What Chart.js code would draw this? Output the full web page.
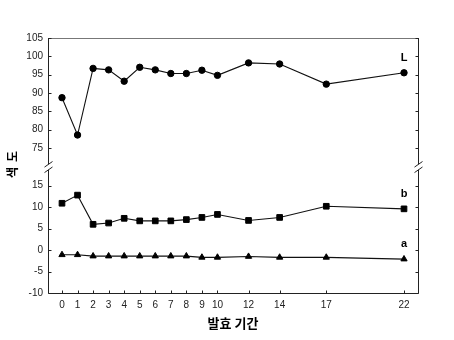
<!DOCTYPE html>
<html>
<head>
<meta charset="utf-8">
<script src="https://cdn.jsdelivr.net/npm/chart.js@4/dist/chart.umd.min.js"></script>
<style>
  html, body { margin: 0; padding: 0; background: #fff; }
</style>
</head>
<body>
<canvas id="c" width="454" height="340"></canvas>
<script>
// Fermentation days and colour values (L, b, a)
const days = [0, 1, 2, 3, 4, 5, 6, 7, 8, 9, 10, 12, 14, 17, 22];
const seriesL = [88.7, 78.5, 96.7, 96.3, 93.2, 97.0, 96.3, 95.3, 95.3, 96.2, 94.8, 98.2, 97.9, 92.4, 95.5];
const seriesB = [10.9, 12.8, 6.0, 6.3, 7.4, 6.8, 6.8, 6.8, 7.1, 7.6, 8.3, 6.9, 7.6, 10.2, 9.6];
const seriesA = [-1.1, -1.1, -1.4, -1.4, -1.4, -1.4, -1.4, -1.4, -1.4, -1.7, -1.7, -1.5, -1.7, -1.7, -2.1];
const seriesNames = ['L', 'b', 'a'];
const upperTicks = [75, 80, 85, 90, 95, 100, 105];
const lowerTicks = [-10, -5, 0, 5, 10, 15];
const xTitle = '발효 기간';
const yTitle = ['색', '도'];

const tickFont = { family: 'Liberation Sans, Arial, sans-serif', size: 10 };
const tickColor = '#222';
const ink = '#111';

const toPoints = vals => vals.map((v, i) => ({ x: days[i], y: v }));

// Axis frame, inward tick marks, axis-break slashes and series letters
const framePlugin = {
  id: 'frame',
  afterDraw(chart) {
    const ctx = chart.ctx;
    const area = chart.chartArea;
    const top = chart.scales.yTop, bot = chart.scales.yBot, xs = chart.scales.x;
    const al = v => Math.round(v) + 0.5;
    const L = al(area.left), R = al(area.right);
    ctx.save();
    ctx.lineWidth = 1;

    // top frame line
    ctx.strokeStyle = '#777';
    ctx.beginPath();
    ctx.moveTo(L, al(area.top)); ctx.lineTo(R, al(area.top));
    ctx.stroke();

    ctx.strokeStyle = '#222';
    ctx.beginPath();
    // vertical axis segments, left and right
    [L, R].forEach(xx => {
      ctx.moveTo(xx, area.top); ctx.lineTo(xx, top.bottom);
      ctx.moveTo(xx, bot.top); ctx.lineTo(xx, area.bottom + 0.5);
    });
    // bottom axis
    ctx.moveTo(L, al(area.bottom)); ctx.lineTo(R, al(area.bottom));
    // inward ticks
    [top, bot].forEach(s => {
      s.ticks.forEach(t => {
        const y = al(s.getPixelForValue(t.value));
        ctx.moveTo(L, y); ctx.lineTo(L + 3, y);
        ctx.moveTo(R, y); ctx.lineTo(R - 3, y);
      });
    });
    xs.ticks.forEach(t => {
      const x = al(xs.getPixelForValue(t.value));
      ctx.moveTo(x, al(area.bottom)); ctx.lineTo(x, al(area.bottom) - 3);
    });
    ctx.stroke();

    // break slashes on both axes
    ctx.beginPath();
    [L, R].forEach(xx => {
      [top.bottom, bot.top].forEach(y => {
        ctx.moveTo(xx - 4, y + 2.8); ctx.lineTo(xx + 4, y - 2.8);
      });
    });
    ctx.stroke();

    // series letters above the last point of each line
    ctx.fillStyle = '#000';
    ctx.font = 'bold 11px Liberation Sans, Arial, sans-serif';
    ctx.textAlign = 'center';
    ctx.textBaseline = 'middle';
    chart.data.datasets.forEach((ds, i) => {
      const pts = chart.getDatasetMeta(i).data;
      const p = pts[pts.length - 1];
      ctx.fillText(seriesNames[i], p.x, p.y - 15);
    });

    // vertical axis title, two syllables read bottom to top
    ctx.translate(12, (area.top + area.bottom) / 2 - 1);
    ctx.rotate(-Math.PI / 2);
    ctx.font = 'bold 12px "Noto Sans CJK KR", sans-serif';
    ctx.fillText(yTitle[0], -8, 0);
    ctx.fillText(yTitle[1], 8, 0);
    ctx.restore();
  }
};

const markerBase = {
  borderColor: ink,
  backgroundColor: ink,
  borderWidth: 1.1,
  pointBorderWidth: 1,
  pointBackgroundColor: '#000',
  pointBorderColor: '#000',
  tension: 0,
  fill: false
};

new Chart(document.getElementById('c'), {
  type: 'line',
  data: {
    datasets: [
      Object.assign({}, markerBase, { label: seriesNames[0], data: toPoints(seriesL), yAxisID: 'yTop', pointStyle: 'circle', pointRadius: 3.2 }),
      Object.assign({}, markerBase, { label: seriesNames[1], data: toPoints(seriesB), yAxisID: 'yBot', pointStyle: 'rect', pointRadius: 4.0 }),
      Object.assign({}, markerBase, { label: seriesNames[2], data: toPoints(seriesA), yAxisID: 'yBot', pointStyle: 'triangle', pointRadius: 3.6 })
    ]
  },
  options: {
    responsive: false,
    animation: false,
    devicePixelRatio: 1,
    layout: { padding: { top: 38, right: 36, left: 0, bottom: 0 } },
    plugins: { legend: { display: false }, tooltip: { enabled: false } },
    scales: {
      x: {
        type: 'linear',
        min: -0.9,
        max: 22.9,
        afterBuildTicks: s => { s.ticks = days.map(v => ({ value: v })); },
        grid: { display: false, drawTicks: false },
        border: { display: false },
        ticks: { font: tickFont, color: tickColor, padding: 6, autoSkip: false, maxRotation: 0 },
        title: {
          display: true,
          text: xTitle,
          color: '#000',
          font: { family: '"Noto Sans CJK KR", sans-serif', size: 13, weight: 'bold' },
          padding: { top: 4, bottom: 9 }
        },
        afterFit: s => { s.height = 47; }
      },
      yBot: {
        type: 'linear',
        position: 'left',
        stack: 'v',
        stackWeight: 123.5,
        min: -10,
        max: 18.7,
        afterBuildTicks: s => { s.ticks = lowerTicks.map(v => ({ value: v })); },
        grid: { display: false, drawTicks: false },
        border: { display: false },
        ticks: { font: tickFont, color: tickColor, padding: 5, autoSkip: false },
        afterFit: s => { s.width = 48; }
      },
      yGap: {
        type: 'linear',
        position: 'left',
        stack: 'v',
        stackWeight: 5.5,
        display: false,
        min: 0,
        max: 1
      },
      yTop: {
        type: 'linear',
        position: 'left',
        stack: 'v',
        stackWeight: 126.6,
        min: 70.5,
        max: 105,
        afterBuildTicks: s => { s.ticks = upperTicks.map(v => ({ value: v })); },
        grid: { display: false, drawTicks: false },
        border: { display: false },
        ticks: { font: tickFont, color: tickColor, padding: 5, autoSkip: false },
        afterFit: s => { s.width = 48; }
      }
    }
  },
  plugins: [framePlugin]
});
</script>
</body>
</html>
